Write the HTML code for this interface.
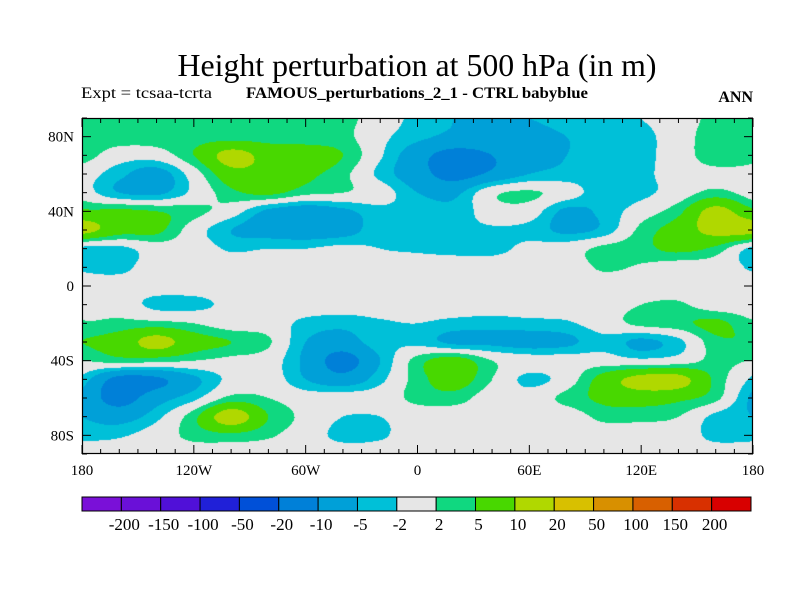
<!DOCTYPE html>
<html><head><meta charset="utf-8">
<style>
html,body{margin:0;padding:0;background:#fff;}
#wrap{position:relative;width:800px;height:600px;overflow:hidden;}
#map{position:absolute;left:82px;top:118px;}
svg{position:absolute;left:0;top:0;}
text{font-family:"Liberation Serif",serif;fill:#000;}
</style></head>
<body>
<div id="wrap">
<canvas id="map" width="671" height="336"></canvas>
<svg id="svg" width="800" height="600">
<text x="417" y="76" font-size="32" text-anchor="middle" textLength="479" lengthAdjust="spacingAndGlyphs">Height perturbation at 500 hPa (in m)</text>
<text x="81" y="98" font-size="16" textLength="131" lengthAdjust="spacingAndGlyphs">Expt = tcsaa-tcrta</text>
<text x="246" y="98" font-size="16" font-weight="bold" textLength="342" lengthAdjust="spacingAndGlyphs">FAMOUS_perturbations_2_1 - CTRL babyblue</text>
<text x="753" y="102" font-size="16" font-weight="bold" text-anchor="end">ANN</text>
<g id="axes"></g>
<g id="cbar"></g>
</svg>
</div>
<script>
// Grid data: longitudes and latitudes of the value grid
const lons = [-180,-160,-140,-120,-100,-80,-60,-40,-20,0,20,40,60,80,100,120,140,160,180];
const lats = [90,80,70,60,50,40,30,20,10,0,-10,-20,-30,-40,-50,-60,-70,-80,-90];
const r90  = [3,3,3,3,3,3,3,3,0,-3,-5,-5,-5,-4,-3,-2,0,3,4];
const r80  = [3.5,3.5,3.5,3.5,3.5,3.5,3.5,3,-1,-4,-6,-6,-6,-5,-4,-3,0,4,6];
const r70  = [3.5,0,0,5,12,8,7,5,-1.5,-8,-12,-10,-7,-5,-4,-3,0,4,6];
const r60  = [0,-4,-7,0,8,8,6,3,-3,-8,-12,-9,-5,-4,-4,-3,0,1,1.5];
const r50  = [0,-5,-6,-1,4,6,3,2,0,-5,-6,1,2.5,0,-4,-3,0,3,3];
const r40  = [6,6,5,3,0,-6,-8,-6,-3,-3,-4,0,0,-6,-4,0,4,12,11];
const r30  = [12,7,6,0,-5,-7,-8,-7,-3,-3,-3,-2.5,-3,-6,-4,3,7,12,12];
const r20  = [-3,-3,0,0,-2.5,-2,-2,-1,-2,-2.5,-3,-3,-1,0,3,4,6,4,0];
const r10  = [-2.5,-3,0,0,0,0,0,0,0,0,0,0,0,0,2.5,1.5,0,0,-2.5];
const r0   = [0,0,0,0,0,0,0,0,0,0,0,0,0,0,0,0,0,0,0];
const rS10 = [0,0,-3,-3,-1,0,0,0,0,0,0,0,0,0,0,2,2.5,0,0];
const rS20 = [2.5,3,3,2,0,0,-3,-4,-2.5,-2,-3,-3.5,-3,-2.5,0,3,4,6,6];
const rS30 = [5,7,12,7,5,2.5,-5,-7,-3,-3,-6,-6,-7,-6,-3,-6,-3,4,7];
const rS40 = [2,3.5,3,2,1,0,-6,-12,-5,3.5,7,2,0,0,0,-1,0,3,6];
const rS50 = [-3,-12,-11,-6,-1,0,-5,-8,-3,3.5,7,2,-3,0,7,12,12,4,2];
const rS60 = [-6,-12,-7,-3,3,2,0,0,0,3,3.5,0,0,3,6,7,6,3,0];
const rS70 = [-5,-7,-3,4,13,5,1,-2,-2,0,0,0,0,0,3,3,2,-3,-8];
const rS80 = [-3,-2.5,0,3,4,2.5,0,-3,-2.5,0,0,0,0,0,0,0,0,-3,-5];
const rS90 = [0,0,0,0,0,0,0,0,0,0,0,0,0,0,0,0,0,0,0];
const grid = [r90,r80,r70,r60,r50,r40,r30,r20,r10,r0,rS10,rS20,rS30,rS40,rS50,rS60,rS70,rS80,rS90];
// Contour levels and colorbar labels
const levels = [-200,-150,-100,-50,-20,-10,-5,-2,2,5,10,20,50,100,150,200];
const levelLabels = ["-200","-150","-100","-50","-20","-10","-5","-2","2","5","10","20","50","100","150","200"];
const colors = ["#7a10d8","#6a10d8","#5010d8","#2020d8","#0050d8","#0080d8","#00a0d8","#00c0d8","#e6e6e6","#10d880","#48d800","#b0d800","#d8c000","#d89000","#d86000","#d83000","#d80000"];
const lonTicks = [-180,-120,-60,0,60,120,180];
const lonTickLabels = ["180","120W","60W","0","60E","120E","180"];
const latTicks = [80,40,0,-40,-80];
const latTickLabels = ["80N","40N","0","40S","80S"];

const PL=82, PT=118, PW=671, PH=336;
const xOf = lon => PL + (lon+180)/360*PW;
const yOf = lat => PT + (90-lat)/180*PH;
function hex(c){return [parseInt(c.slice(1,3),16),parseInt(c.slice(3,5),16),parseInt(c.slice(5,7),16)];}
const rgb = colors.map(hex);
function colorIndex(v){let i=0;while(i<levels.length && v>=levels[i]) i++;return i;}
function cr(p0,p1,p2,p3,t){
  return 0.5*((2*p1)+(-p0+p2)*t+(2*p0-5*p1+4*p2-p3)*t*t+(-p0+3*p1-3*p2+p3)*t*t*t);
}
function g(j,i){
  j=Math.max(0,Math.min(lats.length-1,j));
  const n=lons.length-1;
  i=((i%n)+n)%n;
  return grid[j][i];
}
function sample(lon,lat){
  const fx=(lon-lons[0])/(lons[1]-lons[0]);
  const fy=(lats[0]-lat)/(lats[0]-lats[1]);
  let i=Math.max(0,Math.min(Math.floor(fx),lons.length-2));
  let j=Math.max(0,Math.min(Math.floor(fy),lats.length-2));
  const tx=fx-i, ty=fy-j;
  const rows=[];
  for(let k=-1;k<=2;k++){
    rows.push(cr(g(j+k,i-1),g(j+k,i),g(j+k,i+1),g(j+k,i+2),tx));
  }
  return cr(rows[0],rows[1],rows[2],rows[3],ty);
}
const cv=document.getElementById('map'), ctx=cv.getContext('2d');
const img=ctx.createImageData(PW,PH);
for(let py=0;py<PH;py++){
  const lat=90-(py+0.5)/PH*180;
  for(let px=0;px<PW;px++){
    const lon=-180+(px+0.5)/PW*360;
    const c=rgb[colorIndex(sample(lon,lat))];
    const k=(py*PW+px)*4;
    img.data[k]=c[0];img.data[k+1]=c[1];img.data[k+2]=c[2];img.data[k+3]=255;
  }
}
ctx.putImageData(img,0,0);

const NS='http://www.w3.org/2000/svg';
function mk(tag,attrs,parent){const e=document.createElementNS(NS,tag);for(const k in attrs)e.setAttribute(k,attrs[k]);parent.appendChild(e);return e;}
const axes=document.getElementById('axes');
const frame=mk('rect',{x:PL+0.5,y:PT+0.5,width:PW-1,height:PH-1,fill:'none',stroke:'#000','stroke-width':1.2},axes);


for(let lon=-180;lon<=180;lon+=10){
  const x=xOf(lon), major=lon%60===0, L=major?9:5;
  const t1=mk('line',{x1:x,y1:PT+PH,x2:x,y2:PT+PH-L,stroke:'#000'},axes);
  
  
  const t2=mk('line',{x1:x,y1:PT,x2:x,y2:PT+L,stroke:'#000'},axes);
  
  
}
for(let lat=-90;lat<=90;lat+=10){
  const y=yOf(lat), major=lat%40===0, L=major?9:5;
  const t1=mk('line',{x1:PL,y1:y,x2:PL+L,y2:y,stroke:'#000'},axes);
  
  
  const t2=mk('line',{x1:PL+PW,y1:y,x2:PL+PW-L,y2:y,stroke:'#000'},axes);
  
  
}
lonTicks.forEach((lon,i)=>{
  const t=mk('text',{x:xOf(lon),y:PT+PH+21,'font-size':15,'text-anchor':'middle'},axes);
  t.textContent=lonTickLabels[i];
  
  
});
latTicks.forEach((lat,i)=>{
  const t=mk('text',{x:PL-8,y:yOf(lat)+5,'font-size':15,'text-anchor':'end'},axes);
  t.textContent=latTickLabels[i];
  
  
});
const cbar=document.getElementById('cbar');
const CX=82, CY=497, CW=669, CH=14, bw=CW/colors.length;
colors.forEach((c,i)=>{
  const r=mk('rect',{x:CX+i*bw,y:CY,width:bw,height:CH,fill:c,stroke:'#000','stroke-width':1},cbar);
  
  
});
levels.forEach((v,i)=>{
  const t=mk('text',{x:CX+(i+1)*bw+3,y:CY+33,'font-size':17,'text-anchor':'middle'},cbar);
  t.textContent=levelLabels[i];
  
  
});
</script>
</body></html>
